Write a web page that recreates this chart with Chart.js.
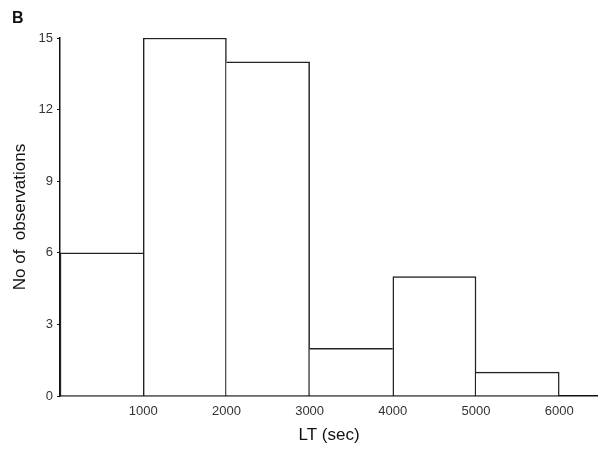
<!DOCTYPE html>
<html>
<head>
<meta charset="utf-8">
<script src="https://cdn.jsdelivr.net/npm/chart.js@4"></script>
<style>
  body { margin: 0; background: #fff; }
  canvas { display: block; }
</style>
</head>
<body>
<canvas id="histChart" width="598" height="450"></canvas>
<script>
// histogram bins (sec) and counts
const binEdges = [0, 1000, 2000, 3000, 4000, 5000, 6000];
const counts = [6, 15, 14, 2, 5, 1];
const xTicks = [1000, 2000, 3000, 4000, 5000, 6000];
const yTicks = [0, 3, 6, 9, 12, 15];

const points = counts.map((c, i) => ({ x: (binEdges[i] + binEdges[i + 1]) / 2, y: c }));

// only draw a side where this bar is the taller one, so shared edges stay single lines
function sideWidths(ctx) {
  const i = ctx.dataIndex;
  const v = counts[i];
  const prev = i > 0 ? counts[i - 1] : 0;
  const next = i < counts.length - 1 ? counts[i + 1] : 0;
  return { top: 1.5, bottom: 0, left: v > prev ? 1.5 : 0, right: v >= next ? 1.5 : 0 };
}

const panelLetter = {
  id: 'panelLetter',
  afterDraw(chart) {
    const c = chart.ctx;
    c.save();
    c.font = 'bold 16px "Liberation Sans", Arial, sans-serif';
    c.fillStyle = '#111';
    c.textBaseline = 'middle';
    c.fillText('B', 12, 19);
    c.restore();
  }
};

const fontFamily = '"Liberation Sans", Arial, sans-serif';

new Chart(document.getElementById('histChart'), {
  type: 'bar',
  data: {
    datasets: [{
      data: points,
      backgroundColor: '#fff',
      borderColor: '#222',
      borderWidth: sideWidths,
      borderSkipped: false,
      barPercentage: 1,
      categoryPercentage: 1
    }]
  },
  options: {
    responsive: false,
    animation: false,
    layout: { padding: { top: 38, right: 0, bottom: 0, left: 0 } },
    plugins: { legend: { display: false }, tooltip: { enabled: false } },
    scales: {
      x: {
        type: 'linear',
        offset: false,
        min: 0,
        max: 6466,
        afterBuildTicks: s => { s.ticks = xTicks.map(v => ({ value: v })); },
        afterFit: s => { s.height = 54; },
        grid: { display: false, drawTicks: false },
        border: { display: true, color: '#111', width: 1.5 },
        ticks: {
          padding: 8,
          color: '#333',
          font: { family: fontFamily, size: 13 },
          maxRotation: 0,
          callback: v => String(v)
        },
        title: {
          display: true,
          text: 'LT (sec)',
          color: '#111',
          font: { family: fontFamily, size: 17 },
          padding: { top: 0, bottom: 4 }
        }
      },
      y: {
        min: 0,
        max: 15,
        afterBuildTicks: s => { s.ticks = yTicks.map(v => ({ value: v })); },
        afterFit: s => { s.width = 60; },
        grid: { display: true, drawOnChartArea: false, drawTicks: true, tickLength: 3, color: '#111' },
        border: { display: true, color: '#111', width: 1.5 },
        ticks: {
          padding: 4,
          color: '#333',
          font: { family: fontFamily, size: 13 },
          callback: v => String(v)
        },
        title: {
          display: true,
          text: 'No of  observations',
          color: '#111',
          font: { family: fontFamily, size: 17 },
          padding: { top: 10, bottom: 0 }
        }
      }
    }
  },
  plugins: [panelLetter]
});
</script>
</body>
</html>
